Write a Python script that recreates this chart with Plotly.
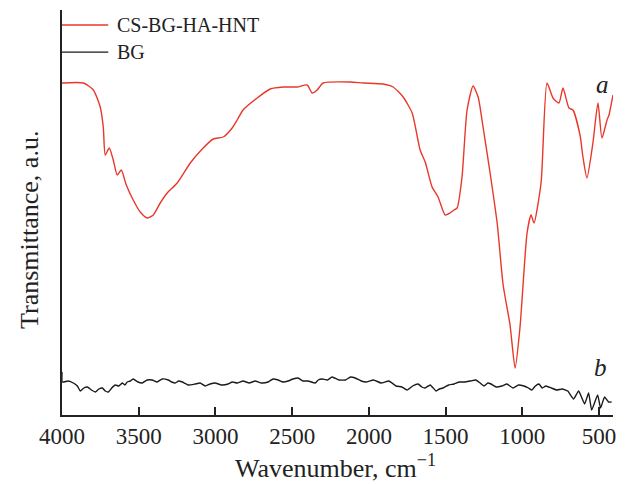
import plotly.graph_objects as go

# CS-BG-HA-HNT spectrum (curve a)
wn_a = [4000, 3861, 3796, 3751, 3731, 3718, 3692, 3666, 3640, 3614, 3581, 3536, 3490, 3444,
        3405, 3360, 3314, 3249, 3164, 3080, 3014, 2949, 2891, 2858, 2820, 2728, 2643, 2558,
        2467, 2402, 2370, 2337, 2298, 2122, 2037, 1907, 1842, 1777, 1718, 1666, 1633, 1588,
        1549, 1503, 1471, 1445, 1425, 1393, 1360, 1321, 1288, 1256, 1210, 1164, 1125, 1080,
        1047, 1015, 969, 943, 924, 878, 839, 800, 761, 735, 696, 670, 624, 605, 579, 540,
        507, 481, 448, 435, 409]
t_a = [332, 332, 325, 308, 288, 260, 267, 255, 240, 245, 230, 215, 203, 197,
       200, 212, 222, 232, 252, 267, 276, 278, 287, 295, 305, 317, 326, 328,
       328, 330, 322, 325, 332, 333, 332, 331, 328, 318, 302, 265, 253, 228,
       218, 200, 202, 205, 207, 238, 305, 329, 318, 288, 242, 192, 130, 90,
       47, 88, 182, 200, 192, 232, 332, 317, 312, 327, 307, 305, 280, 258, 237, 272,
       312, 277, 295, 300, 320]

# BG spectrum (curve b)
wn_b = [4000, 3998, 3959, 3926, 3900, 3881, 3858, 3835, 3808, 3783, 3760, 3737, 3718, 3698,
        3676, 3653, 3630, 3607, 3590, 3575, 3555, 3536, 3505, 3477, 3445, 3412, 3380, 3347,
        3308, 3285, 3262, 3240, 3216, 3175, 3132, 3100, 3067, 3035, 3002, 2960, 2917, 2890,
        2859, 2820, 2780, 2741, 2700, 2657, 2625, 2591, 2560, 2526, 2495, 2461, 2430, 2396,
        2350, 2330, 2305, 2270, 2240, 2195, 2152, 2120, 2089, 2050, 2018, 1970, 1920, 1870,
        1823, 1785, 1751, 1715, 1679, 1655, 1634, 1600, 1562, 1540, 1517, 1480, 1445, 1410,
        1374, 1340, 1302, 1275, 1250, 1225, 1204, 1170, 1133, 1100, 1061, 1025, 990, 960,
        938, 915, 892, 870, 847, 810, 776, 740, 704, 666, 633, 594, 568, 548, 509, 490,
        464, 438, 418]
t_b = [43, 33, 34, 32, 29, 24, 27, 28, 25, 23, 26, 27, 24, 23,
       27, 30, 29, 32, 30, 33, 34, 36, 33, 32, 35, 35, 33, 36,
       35, 33, 32, 34, 33, 30, 31, 32, 29, 31, 32, 30, 31, 33,
       32, 34, 32, 34, 32, 33, 36, 35, 33, 34, 36, 37, 34, 34,
       32, 35, 36, 35, 38, 35, 35, 38, 37, 34, 33, 35, 32, 34,
       29, 28, 25, 29, 31, 28, 27, 30, 24, 26, 27, 30, 31, 33,
       33, 34, 35, 32, 29, 32, 31, 28, 29, 31, 27, 30, 29, 27,
       25, 29, 31, 27, 29, 27, 25, 26, 24, 16, 24, 11, 22, 5, 20, 7,
       18, 13, 13]

x_ticks = [4000, 3500, 3000, 2500, 2000, 1500, 1000, 500]
legend_names = ["CS-BG-HA-HNT", "BG"]
colors = ["#e8382b", "#1a1a1a"]

FONT = "Liberation Serif, Times New Roman, serif"

fig = go.Figure()
fig.add_trace(go.Scatter(x=wn_a, y=t_a, mode="lines", name=legend_names[0],
                         line=dict(color=colors[0], width=1.4, shape="spline", smoothing=0.6),
                         showlegend=False))
fig.add_trace(go.Scatter(x=wn_b, y=t_b, mode="lines", name=legend_names[1],
                         line=dict(color=colors[1], width=1.4, shape="spline", smoothing=0.4),
                         showlegend=False))

# custom legend (lines + text) in paper coordinates
leg_y = [0.963, 0.896]
for name, col, ly in zip(legend_names, colors, leg_y):
    fig.add_shape(type="line", xref="paper", yref="paper", x0=0.0, x1=0.084, y0=ly, y1=ly,
                  line=dict(color=col, width=1.4))
    fig.add_annotation(xref="paper", yref="paper", x=0.096, y=ly, text=name, showarrow=False,
                       xanchor="left", yanchor="middle",
                       font=dict(family=FONT, size=20, color="#222"))

# curve labels
fig.add_annotation(x=480, y=331, text="<i>a</i>", showarrow=False,
                   font=dict(family=FONT, size=25, color="#222"))
fig.add_annotation(x=493, y=48, text="<i>b</i>", showarrow=False,
                   font=dict(family=FONT, size=25, color="#222"))

# axis titles
fig.add_annotation(xref="paper", yref="paper", x=0.497, y=-0.128, text="Wavenumber, cm<sup>−1</sup>",
                   showarrow=False, xanchor="center", yanchor="middle",
                   font=dict(family=FONT, size=26, color="#222"))
fig.add_annotation(xref="paper", yref="paper", x=-0.058, y=0.457, text="Transmittance, a.u.",
                   showarrow=False, textangle=-90, xanchor="center", yanchor="middle",
                   font=dict(family=FONT, size=26, color="#222"))

fig.update_layout(
    width=627, height=484,
    margin=dict(l=62, r=14, t=10, b=69),
    paper_bgcolor="white", plot_bgcolor="white",
    font=dict(family=FONT, color="#222"),
)
fig.update_xaxes(range=[4000, 409], tickvals=x_ticks, ticktext=[str(v) for v in x_ticks],
                 showgrid=False, zeroline=False, showline=True, linecolor="#222", linewidth=1.5,
                 ticks="inside", ticklen=8, tickwidth=1.5, tickcolor="#222",
                 tickfont=dict(family=FONT, size=23, color="#222"))
fig.update_yaxes(range=[0, 405], showgrid=False, zeroline=False, showline=True,
                 linecolor="#222", linewidth=1.5, showticklabels=False, ticks="")

fig.write_html("out.html")
